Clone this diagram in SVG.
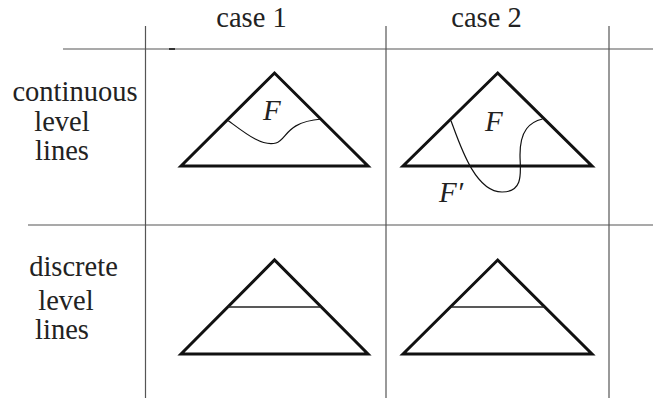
<svg xmlns="http://www.w3.org/2000/svg" width="653" height="398" viewBox="0 0 653 398">
<style>
.grid{stroke:#555;stroke-width:1.2;fill:none}
.tri{stroke:#111;stroke-width:3;fill:none;stroke-linejoin:miter}
.curve{stroke:#111;stroke-width:1.2;fill:none}
.lvl{stroke:#222;stroke-width:1.5}
.lab{font-family:"Liberation Serif",serif;font-size:28.5px;fill:#222}
.mth{font-family:"Liberation Serif",serif;font-style:italic;font-size:29px;fill:#222}
</style>
<g id="grid" class="grid">
<line x1="145.5" y1="26" x2="145.5" y2="398"/>
<line x1="386" y1="26" x2="386" y2="398"/>
<line x1="609" y1="26" x2="609" y2="398"/>
<line x1="63" y1="49" x2="653" y2="49"/>
<line x1="28" y1="225" x2="653" y2="225"/>
<line x1="169" y1="49" x2="175" y2="49" stroke="#333" stroke-width="2"/>
</g>
<g id="headers">
<text class="lab" x="251.5" y="26.5" text-anchor="middle">case 1</text>
<text class="lab" x="486.5" y="26.5" text-anchor="middle">case 2</text>
</g>
<g id="row1-label">
<text class="lab" x="75" y="100.5" text-anchor="middle">continuous</text>
<text class="lab" x="62" y="131" text-anchor="middle">level</text>
<text class="lab" x="62" y="160" text-anchor="middle">lines</text>
</g>
<g id="row2-label">
<text class="lab" x="73.5" y="276" text-anchor="middle">discrete</text>
<text class="lab" x="66" y="310" text-anchor="middle">level</text>
<text class="lab" x="62" y="339" text-anchor="middle">lines</text>
</g>
<g id="cell-continuous-case1">
<path class="tri" d="M181,166 L274.5,73 L368,166 Z"/>
<path class="curve" d="M228.3,120.7 C245,133 262,147 276,143 C287,140 285,122 321.5,119"/>
<text class="mth" x="263" y="120">F</text>
</g>
<g id="cell-continuous-case2">
<path class="tri" d="M403,166 L497.7,73 L592,166 Z"/>
<path class="curve" d="M451,120.7 C460,145 475,192 502,192 C525,192 520,170 520,155 C520,130 530,122 542.5,119"/>
<text class="mth" x="485" y="131">F</text>
<text class="mth" x="439" y="201.5">F′</text>
</g>
<g id="cell-discrete-case1">
<path class="tri" d="M181,354 L274.5,260 L368,354 Z"/>
<line class="lvl" x1="228" y1="307" x2="321" y2="307"/>
</g>
<g id="cell-discrete-case2">
<path class="tri" d="M403,354 L497.7,260 L592,354 Z"/>
<line class="lvl" x1="451" y1="307" x2="544.5" y2="307"/>
</g>
</svg>
